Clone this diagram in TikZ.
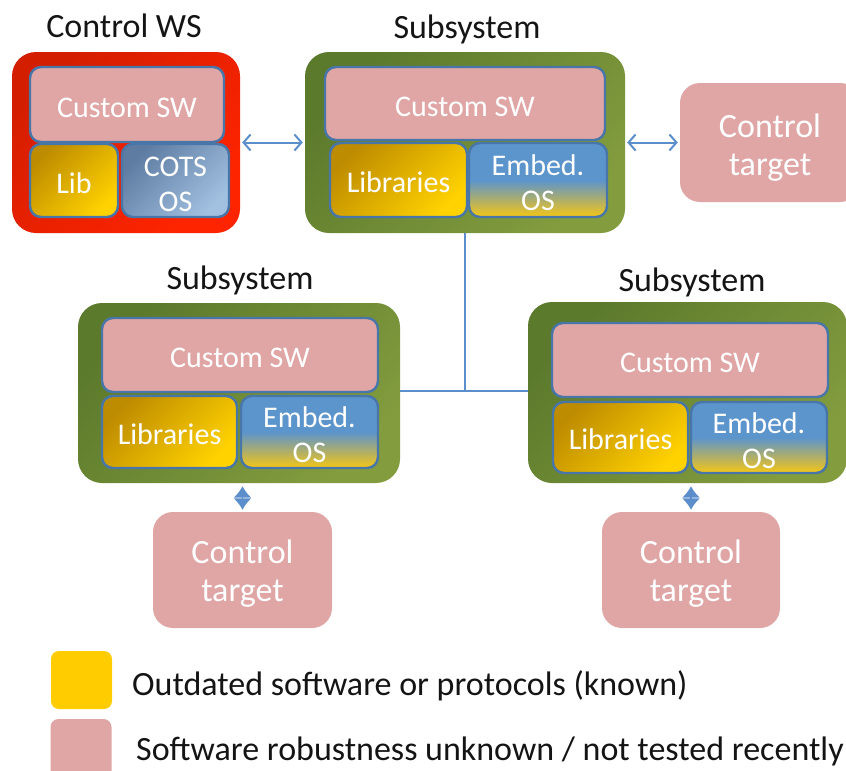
\documentclass[tikz,border=0pt]{standalone}
\usepackage{fontspec}
\setmainfont{Carlito}
\usetikzlibrary{arrows.meta}

\definecolor{pinkfill}{RGB}{224,165,165}
\definecolor{edgeblue}{RGB}{72,118,168}
\definecolor{linkblue}{RGB}{92,142,204}
\definecolor{goldA}{RGB}{190,140,0}
\definecolor{goldB}{RGB}{255,210,0}
\definecolor{greenA}{RGB}{92,122,44}
\definecolor{greenB}{RGB}{130,156,62}
\definecolor{redA}{RGB}{212,30,0}
\definecolor{redB}{RGB}{255,36,0}
\definecolor{cotsA}{RGB}{94,124,162}
\definecolor{cotsB}{RGB}{162,192,224}
\definecolor{osblue}{RGB}{92,148,204}
\definecolor{osyellow}{RGB}{246,198,20}
\definecolor{legyellow}{RGB}{255,204,0}

\tikzset{
  shell/.style={rounded corners=24pt, inner sep=0pt},
  wsbox/.style={shell, top color=redA, bottom color=redB, shading angle=45},
  subsys/.style={shell, top color=greenA, bottom color=greenB, shading angle=45},
  part/.style={draw=edgeblue, line width=2.4pt, rounded corners=11pt, inner sep=0pt},
  custom/.style={part, fill=pinkfill},
  libbox/.style={part, top color=goldA, bottom color=goldB, shading angle=45},
  cots/.style={part, top color=cotsA, bottom color=cotsB, shading angle=45},
  embed/.style={part, top color=osblue, bottom color=osyellow, middle color=osblue},
  target/.style={fill=pinkfill, rounded corners=20pt, inner sep=0pt},
  ptext/.style={text=white, align=center, inner sep=0pt, font=\fontsize{30}{35}\selectfont},
  ttext/.style={text=white, align=center, inner sep=0pt, font=\fontsize{34}{38}\selectfont},
  heading/.style={font=\fontsize{34}{40}\selectfont, text=black!92, anchor=base, inner sep=0pt},
  legtext/.style={font=\fontsize{34}{40}\selectfont, text=black!92, anchor=base west, inner sep=0pt},
  legsq/.style={rounded corners=8pt, inner sep=0pt, minimum width=61pt},
  link/.style={draw=linkblue, line width=2pt},
  biarrow/.style={link, shorten <=2pt, shorten >=2pt,
    arrows={Straight Barb[length=7pt,width=16pt]-Straight Barb[length=7pt,width=16pt]}},
  tinyarrow/.style={link, line width=1.5pt, shorten <=3pt, shorten >=2pt,
    arrows={Latex[length=11.5pt,width=18pt]-Latex[length=11.5pt,width=18pt]}},
}

\begin{document}
\begin{tikzpicture}[x=1pt,y=-1pt]
\useasboundingbox (0,0) rectangle (846,771);
\clip (0,0) rectangle (846,771);

% control workstation
\node[heading] (wsT) at (124,37) {Control WS};
\node[wsbox, minimum width=228pt, minimum height=181pt] (ws) at (126,142.5) {};
\node[custom, minimum width=194pt, minimum height=75pt] (wsC) at (127,104.5) {};
\node[libbox, minimum width=88pt, minimum height=73pt] (wsL) at (74,180.5) {};
\node[cots, minimum width=107pt, minimum height=73pt] (wsO) at (175.5,180.5) {};
\node[ptext] (wsCt) at ([yshift=-3pt]wsC.center) {Custom SW};
\node[ptext] (wsLt) at ([yshift=-3pt]wsL.center) {Lib};
\node[ptext] (wsOt) at ([yshift=-4pt]wsO.center) {COTS\\OS};

% top subsystem
\node[heading] (s1T) at (467,38) {Subsystem};
\node[subsys, minimum width=320pt, minimum height=181pt] (s1) at (465,142.5) {};
\node[custom, minimum width=280pt, minimum height=73pt] (s1C) at (465,103.5) {};
\node[libbox, minimum width=137pt, minimum height=74pt] (s1L) at (398.5,180) {};
\node[embed, minimum width=138pt, minimum height=74pt] (s1O) at (538,180) {};
\node[ptext] (s1Ct) at ([yshift=-3pt]s1C.center) {Custom SW};
\node[ptext] (s1Lt) at ([yshift=-2pt]s1L.center) {Libraries};
\node[ptext] (s1Ot) at ([yshift=-3pt]s1O.center) {Embed.\\OS};

% target on the right
\node[target, minimum width=180pt, minimum height=119pt] (t1) at (770,142.5) {};
\node[ttext] (t1t) at ([yshift=-5pt]t1.center) {Control\\target};

% lower left subsystem
\node[heading] (s2T) at (240,289) {Subsystem};
\node[subsys, minimum width=322pt, minimum height=180pt] (s2) at (239,393) {};
\node[custom, minimum width=276pt, minimum height=74pt] (s2C) at (240,355) {};
\node[libbox, minimum width=135pt, minimum height=72pt] (s2L) at (169.5,432) {};
\node[embed, minimum width=137pt, minimum height=72pt] (s2O) at (309.5,432) {};
\node[ptext] (s2Ct) at ([yshift=-3pt]s2C.center) {Custom SW};
\node[ptext] (s2Lt) at ([yshift=-2pt]s2L.center) {Libraries};
\node[ptext] (s2Ot) at ([yshift=-3pt]s2O.center) {Embed.\\OS};
\node[target, minimum width=179pt, minimum height=116pt] (t2) at (242.5,570) {};
\node[ttext] (t2t) at ([yshift=-4pt]t2.center) {Control\\target};

% lower right subsystem
\node[heading] (s3T) at (692,291) {Subsystem};
\node[subsys, minimum width=319pt, minimum height=181pt] (s3) at (687.5,392.5) {};
\node[custom, minimum width=276pt, minimum height=74pt] (s3C) at (690,360) {};
\node[libbox, minimum width=135pt, minimum height=71pt] (s3L) at (620.5,437.5) {};
\node[embed, minimum width=136pt, minimum height=71pt] (s3O) at (759,437.5) {};
\node[ptext] (s3Ct) at ([yshift=-3pt]s3C.center) {Custom SW};
\node[ptext] (s3Lt) at ([yshift=-2pt]s3L.center) {Libraries};
\node[ptext] (s3Ot) at ([yshift=-3pt]s3O.center) {Embed.\\OS};
\node[target, minimum width=178pt, minimum height=116pt] (t3) at (691,570) {};
\node[ttext] (t3t) at ([yshift=-4pt]t3.center) {Control\\target};

% links
\coordinate (jn) at (465,391);
\draw[link] (s1.south) -- (jn);
\draw[link] (s2.east |- jn) -- (s3.west |- jn);
\draw[biarrow] (ws.east) -- (s1.west);
\draw[biarrow] (s1.east) -- (t1.west);
\draw[tinyarrow] (t2.north |- s2.south) -- (t2.north);
\draw[tinyarrow] (t3.north |- s3.south) -- (t3.north);

% legend
\node[legsq, fill=legyellow, minimum height=58pt] (k1) at (81.5,680) {};
\node[legsq, fill=pinkfill, minimum height=62pt] (k2) at (81,750) {};
\node[legtext] (k1t) at (132,695) {Outdated software or protocols (known)};
\node[legtext] (k2t) at (136,760) {Software robustness unknown / not tested recently};
\end{tikzpicture}
\end{document}
